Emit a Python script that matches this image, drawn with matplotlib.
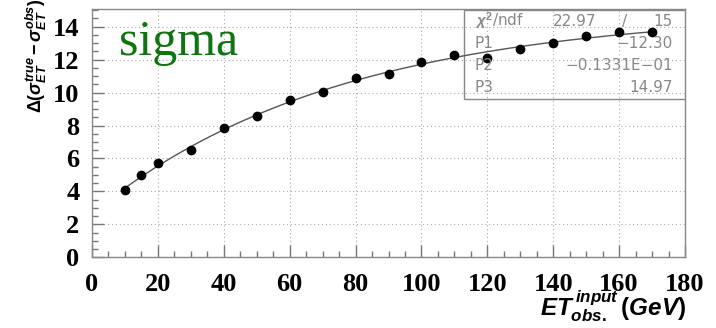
import numpy as np
import matplotlib
matplotlib.use("Agg")
import matplotlib.pyplot as plt
from matplotlib.ticker import MultipleLocator

plt.rcParams['mathtext.fontset'] = 'custom'
plt.rcParams['mathtext.rm'] = 'Liberation Sans:bold'
plt.rcParams['mathtext.it'] = 'Liberation Sans:italic:bold'
plt.rcParams['mathtext.bf'] = 'Liberation Sans:bold'

# Measured points
et_input = [10, 15, 20, 30, 40, 50, 60, 70, 80, 90, 100, 110, 120, 130, 140, 150, 160, 170]
delta_sigma = [4.10, 4.97, 5.75, 6.50, 7.85, 8.58, 9.52, 10.03, 10.90, 11.13, 11.84,
               12.30, 12.10, 12.65, 13.00, 13.44, 13.68, 13.66]

# Fit result: f(x) = P3 + P1 * exp(P2 * x)
chi2, ndf = 22.97, 15
p1, p2, p3 = -12.30, -0.1331e-01, 14.97

x_ticks = list(range(0, 181, 20))
y_ticks = list(range(0, 15, 2))

fig = plt.figure(figsize=(7.16, 3.28), dpi=100)
ax = fig.add_axes([0.1285, 0.2155, 0.8282, 0.756])

xf = np.linspace(min(et_input), max(et_input), 300)
ax.plot(xf, p3 + p1 * np.exp(p2 * xf), color='#555555', lw=1.0, zorder=3)
ax.plot(et_input, delta_sigma, 'o', color='black', ms=6, zorder=4)

ax.set_xlim(0, 180)
ax.set_ylim(0, 15.05)
ax.set_xticks(x_ticks)
ax.set_yticks(y_ticks)
ax.xaxis.set_minor_locator(MultipleLocator(5))
ax.yaxis.set_minor_locator(MultipleLocator(0.5))
ax.tick_params(which='both', direction='in', color='#777777', width=1)
ax.tick_params(which='major', length=8.5, pad=9)
ax.tick_params(which='minor', length=4.3)
for lab in ax.get_xticklabels() + ax.get_yticklabels():
    lab.set_fontfamily('Liberation Serif')
    lab.set_fontweight('bold')
    lab.set_fontsize(19)
ax.tick_params(axis='x', pad=11)

ax.grid(True, which='major', ls=(0, (1, 2.5)), color='#aaaaaa', lw=0.8)
for s in ax.spines.values():
    s.set_color('#888888')
    s.set_linewidth(1.0)

# Fit statistics box
box_l, box_r = 464, 686.5
box_t, box_b = 10, 99.3
W, H = 716, 328
ax.add_patch(plt.Rectangle((box_l / W, 1 - box_b / H), (box_r - box_l) / W,
                           (box_b - box_t) / H, transform=fig.transFigure,
                           fill=False, ec='#888888', lw=1.0, zorder=2))
stat_kw = dict(transform=fig.transFigure, color='#888888', fontsize=11,
               family='DejaVu Sans', va='center', zorder=5)
rows_y = [21.5, 43, 65, 87]
labels = ['P1', 'P2', 'P3']
values = [f'{p1:.2f}', '\u22120.1331E\u221201', f'{p3:.2f}']
fig.text(475 / W, 1 - rows_y[0] / H, '$\\chi^{2}$/ndf', **stat_kw)
fig.text(553 / W, 1 - rows_y[0] / H, f'{chi2:.2f}', **stat_kw)
fig.text(625 / W, 1 - rows_y[0] / H, '/', ha='center', **stat_kw)
fig.text(673 / W, 1 - rows_y[0] / H, f'{ndf}', ha='right', **stat_kw)
for lab, val, yy in zip(labels, values, rows_y[1:]):
    fig.text(475 / W, 1 - yy / H, lab, **stat_kw)
    fig.text(673 / W, 1 - yy / H, val.replace('-', '\u2212'), ha='right', **stat_kw)

fig.text(119 / W, 1 - 55 / H, 'sigma', color='#127312', fontsize=36,
         family='Liberation Serif', va='baseline')

fig.text(36 / W, 1 - 56 / H,
         r'$\Delta(\sigma^{true}_{ET}\,\mathrm{-}\,\sigma^{obs}_{ET})$',
         rotation=90, ha='center', va='center', fontsize=13)
fig.text(686 / W, 1 - 316 / H, r'$ET^{\,input}_{obs.}\,(GeV)$',
         ha='right', va='baseline', fontsize=17.5)

fig.savefig('out.png', dpi=100)
